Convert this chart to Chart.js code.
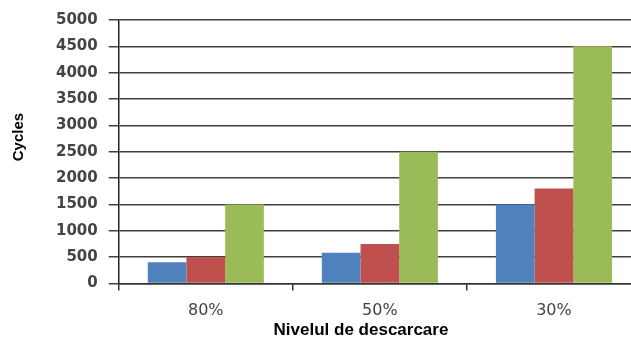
<!DOCTYPE html>
<html>
<head>
<meta charset="utf-8">
<script src="https://cdn.jsdelivr.net/npm/chart.js@4"></script>
<style>
  html, body { margin: 0; padding: 0; background: #fff; overflow: hidden; }
  #wrap { width: 641px; height: 340px; }
</style>
</head>
<body>
<div id="wrap"><canvas id="cyclesChart" width="641" height="340"></canvas></div>
<script>
const categorii = ["80%", "50%", "30%"];
const serieAlbastru = [400, 580, 1500];
const serieRosu = [500, 750, 1800];
const serieVerde = [1500, 2500, 4500];
const ticksY = [0, 500, 1000, 1500, 2000, 2500, 3000, 3500, 4000, 4500, 5000];

// titles are not centred on the plot area in the original, pad with spaces
const nbsp = n => "\u00A0".repeat(n);

const ctx = document.getElementById("cyclesChart");
new Chart(ctx, {
  type: "bar",
  data: {
    labels: categorii,
    datasets: [
      { label: "A", data: serieAlbastru, backgroundColor: "#4F81BD" },
      { label: "B", data: serieRosu, backgroundColor: "#C0504D" },
      { label: "C", data: serieVerde, backgroundColor: "#9BBB59" }
    ]
  },
  options: {
    responsive: false,
    animation: false,
    layout: { padding: { top: 4, right: 0, bottom: -1, left: 10 } },
    datasets: {
      bar: { categoryPercentage: 0.667, barPercentage: 1.0 }
    },
    plugins: {
      legend: { display: false },
      tooltip: { enabled: false }
    },
    scales: {
      x: {
        grid: {
          drawOnChartArea: false,
          drawTicks: true,
          tickLength: 7,
          color: "#333",
          lineWidth: 1.5
        },
        border: { color: "#333", width: 1.5 },
        ticks: {
          color: "#444",
          font: { family: "DejaVu Sans", size: 16 },
          padding: 11
        },
        title: {
          display: true,
          text: "Nivelul de descarcare" + nbsp(8),
          color: "#000",
          font: { family: "Liberation Sans", size: 17, weight: "bold" },
          padding: { top: -11, bottom: 0 }
        }
      },
      y: {
        min: 0,
        max: 5000,
        afterBuildTicks: axis => {
          axis.ticks = ticksY.map(v => ({ value: v }));
        },
        grid: {
          color: "#404040",
          lineWidth: 1.5,
          tickLength: 10,
          drawTicks: true
        },
        border: { color: "#222", width: 1.5 },
        ticks: {
          color: "#444",
          font: { family: "DejaVu Sans", size: 15, weight: "bold" },
          padding: 11,
          callback: v => String(v)
        },
        title: {
          display: true,
          text: nbsp(7) + "Cycles",
          color: "#000",
          font: { family: "Liberation Sans", size: 15, weight: "bold" },
          padding: { top: 0, bottom: 17 }
        }
      }
    }
  }
});
</script>
</body>
</html>
